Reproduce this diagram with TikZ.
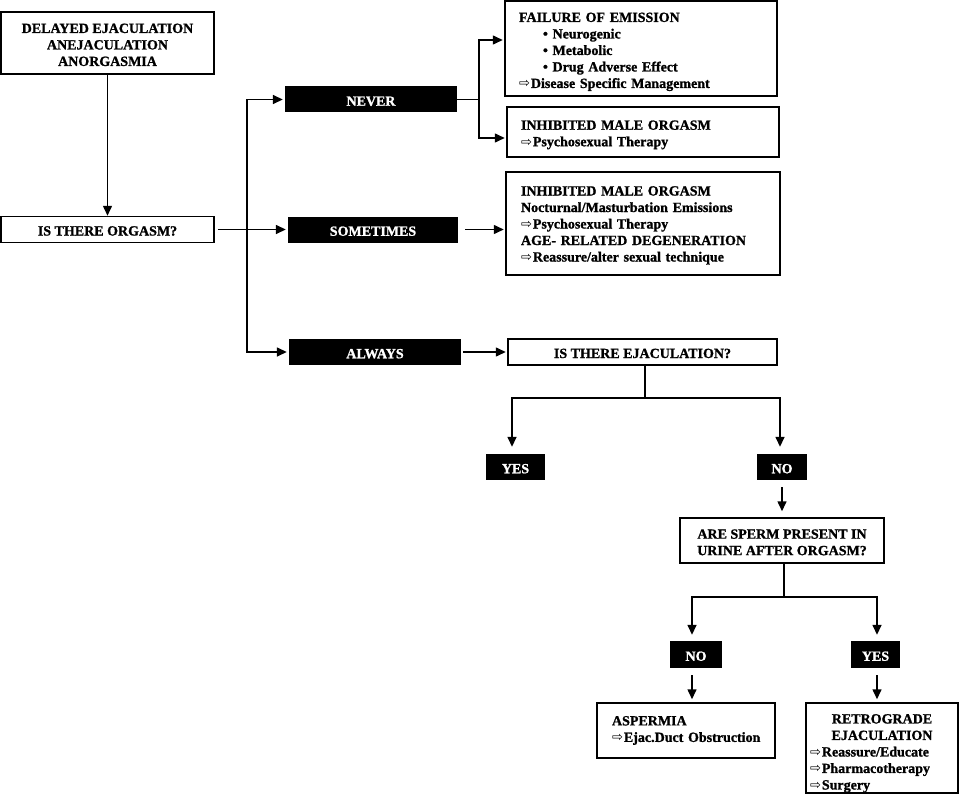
\documentclass[tikz,border=0pt]{standalone}
\usepackage{fontspec}
\setmainfont{Liberation Serif}[BoldFeatures={FakeBold=1.2}]
\newfontfamily\symfont{DejaVu Sans}
\usetikzlibrary{arrows.meta}
\newcommand{\ra}{{\symfont\mdseries\fontsize{13}{13}\selectfont ⇨}\hspace{1pt}}
\newcommand{\topstrut}[1]{\rule{0pt}{#1}}
\begin{document}
\begin{tikzpicture}[x=1pt,y=-1pt,
  every node/.style={font=\fontsize{14}{16.5}\selectfont\bfseries},
  wbox/.style={draw, line width=1.5pt, inner sep=0pt, align=center},
  sbox/.style={wbox, text height=12pt, text depth=0pt},
  lbox/.style={draw, line width=1.5pt, inner ysep=0pt, align=left},
  bbox/.style={fill=black, text=white, inner sep=0pt, minimum height=26pt, text height=12.5pt, text depth=0pt},
  arr/.style={line width=1.5pt, -{Triangle[length=10pt,width=9pt]}},
  ln/.style={line width=1.5pt}]
\useasboundingbox (0,0) rectangle (963,797);

% left column
\node[wbox, minimum width=213pt, minimum height=62pt] (A) at (107.5,43)
  {\topstrut{13pt}DELAYED EJACULATION\\ANEJACULATION\\ANORGASMIA};
\node[sbox, minimum width=213pt, minimum height=26pt] (B) at (107.5,229.5) {IS THERE ORGASM?};

% black labels
\node[bbox, minimum width=172pt] (N) at (371,99.5) {NEVER};
\node[bbox, minimum width=170pt] (S) at (373,229.5) {SOMETIMES};
\node[bbox, minimum width=172pt] (AL) at (375,352) {ALWAYS};

% right top boxes
\node[lbox, inner xsep=14pt, text width=244pt, minimum height=95pt] (F) at (641,48.5)
  {\topstrut{16pt}FAILURE OF EMISSION\\
   \hspace*{24pt}\textbullet\ Neurogenic\\
   \hspace*{24pt}\textbullet\ Metabolic\\
   \hspace*{24pt}\textbullet\ Drug Adverse Effect\\
   \ra Disease Specific Management};
\node[lbox, inner xsep=14pt, text width=244pt, minimum height=50pt] (I1) at (643,132)
  {\topstrut{15pt}INHIBITED MALE ORGASM\\ \ra Psychosexual Therapy};
\node[lbox, inner xsep=15pt, text width=244pt, minimum height=103pt] (I2) at (643,223.5)
  {\topstrut{13pt}INHIBITED MALE ORGASM\\
   Nocturnal/Masturbation Emissions\\
   \ra Psychosexual Therapy\\
   AGE- RELATED DEGENERATION\\
   \ra Reassure/alter sexual technique};

% lower part
\node[sbox, minimum width=269pt, minimum height=26pt] (EJ) at (642.5,352) {IS THERE EJACULATION?};
\node[bbox, minimum width=59pt] (Y1) at (515.5,467) {YES};
\node[bbox, minimum width=50pt] (N1) at (782,467) {NO};
\node[wbox, minimum width=204pt, minimum height=45pt] (SP) at (782,540.5)
  {\topstrut{13pt}ARE SPERM PRESENT IN\\URINE AFTER ORGASM?};
\node[bbox, minimum width=52pt, minimum height=27pt] (N2) at (696,654.5) {NO};
\node[bbox, minimum width=49pt, minimum height=27pt] (Y2) at (875.5,654.5) {YES};
\node[lbox, inner xsep=15pt, text width=148pt, minimum height=55pt] (ASP) at (686,730.5)
  {ASPERMIA\\ \mbox{\ra Ejac.Duct Obstruction}};
\node[lbox, inner xsep=4pt, text width=144pt, minimum height=90pt] (RE) at (882,748)
  {\makebox[144pt]{\topstrut{20pt}RETROGRADE}\\
   \makebox[144pt]{EJACULATION}\\
   \ra Reassure/Educate\\
   \ra Pharmacotherapy\\
   \ra Surgery};

% connectors
\draw[arr] (A) -- (B);
\coordinate (j1) at (247,229.5);
\draw[arr, shorten <=3pt, shorten >=2pt] (B.east) -- (S.west);
\draw[arr, shorten >=2pt] (j1) |- (N.west);
\draw[arr, shorten >=2pt] (j1) |- (AL.west);

\coordinate (j2) at (479,99.5);
\draw[ln] (N.east) -- (j2);
\draw[arr, shorten >=1.5pt] (j2) |- ([yshift=8.5pt]F.west);
\draw[arr, shorten >=1.5pt] (j2) |- ([yshift=-6pt]I1.west);

\draw[arr, shorten <=7pt, shorten >=1.5pt] (S.east) -- (S.east -| I2.west);
\draw[arr, shorten <=2pt, shorten >=1.5pt] (AL.east) -- (EJ.west);

\coordinate (j3) at ([xshift=2.5pt, yshift=-32pt]EJ.south);
\draw[ln] (EJ.south -| j3) -- (j3);
\draw[arr, shorten >=7pt] (j3) -| ([xshift=-3.5pt]Y1.north);
\draw[arr, shorten >=7pt] (j3) -| ([xshift=-2pt]N1.north);

\draw[arr, shorten <=7pt, shorten >=6pt] (N1.south) -- (N1.south |- SP.north);

\coordinate (j4) at ([xshift=2pt, yshift=-33pt]SP.south);
\draw[ln] (SP.south -| j4) -- (j4);
\draw[arr, shorten >=6pt] (j4) -| ([xshift=-4pt]N2.north);
\draw[arr, shorten >=6pt] (j4) -| ([xshift=1.5pt]Y2.north);

\draw[arr, shorten <=7pt, shorten >=3pt] ([xshift=-4pt]N2.south) -- ([xshift=-4pt]N2.south |- ASP.north);
\draw[arr, shorten <=7pt, shorten >=3pt] ([xshift=1.5pt]Y2.south) -- ([xshift=1.5pt]Y2.south |- RE.north);
\end{tikzpicture}
\end{document}
